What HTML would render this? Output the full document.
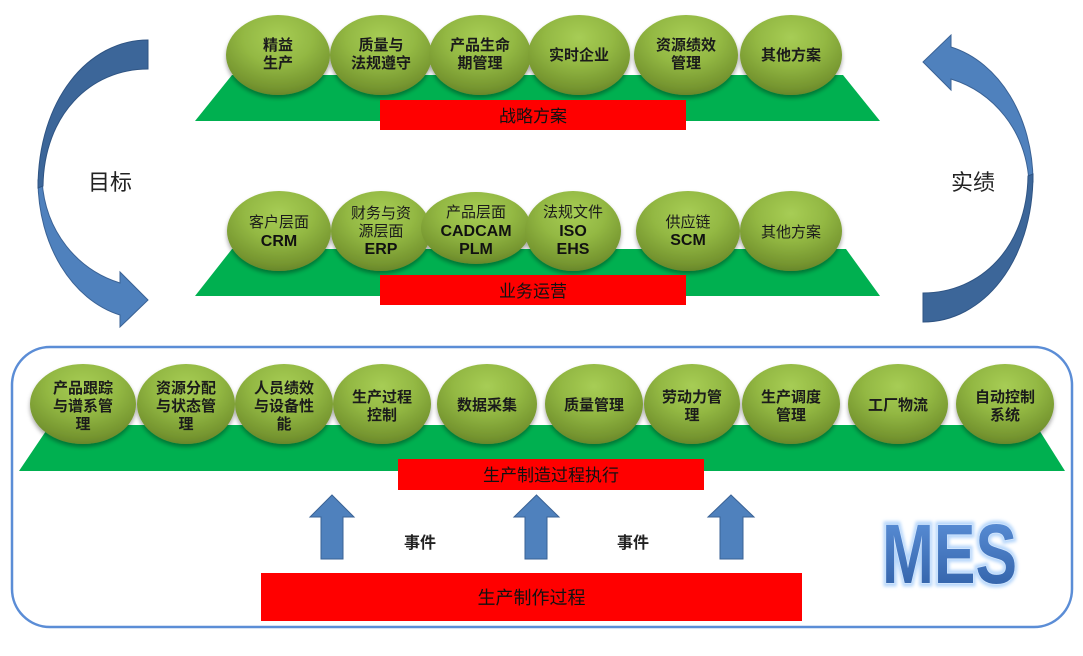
<!DOCTYPE html>
<html><head><meta charset="utf-8"><style>
html,body{margin:0;padding:0;background:#fff;}
svg{display:block;}
text{font-family:"Liberation Sans","Noto Sans CJK SC",sans-serif;}
</style></head><body>
<svg width="1083" height="656" viewBox="0 0 1083 656" xmlns="http://www.w3.org/2000/svg">
<defs>
<radialGradient id="ball" cx="50%" cy="28%" r="75%">
<stop offset="0" stop-color="#a7cd55"/>
<stop offset="0.45" stop-color="#93b843"/>
<stop offset="0.85" stop-color="#75952f"/>
<stop offset="1" stop-color="#64822a"/>
</radialGradient>
<filter id="sh" x="-20%" y="-20%" width="140%" height="150%">
<feDropShadow dx="0" dy="3" stdDeviation="2" flood-color="#000" flood-opacity="0.35"/>
</filter>
<linearGradient id="mesg" x1="0" y1="0" x2="0" y2="1">
<stop offset="0" stop-color="#5f94dc"/>
<stop offset="1" stop-color="#2d5ca3"/>
</linearGradient>
<filter id="glow" x="-10%" y="-10%" width="120%" height="120%">
<feGaussianBlur stdDeviation="1.5"/>
</filter>
<g id="carrow">
<path d="M120,283 C78,270 45,232 42,180 L38,180 C38,245 72,300 120,315 L120,327 L148,300 L120,272 Z" fill="#4f81bd" stroke="#3a6295" stroke-width="1"/>
<path d="M148,40 C88,40 38,100 38,188 L43,186 C44,115 90,69 148,69 Z" fill="#3c6699" stroke="#2f5483" stroke-width="1"/>
</g>
</defs>

<!-- curved arrows -->
<use href="#carrow"/>
<use href="#carrow" transform="rotate(180 535.5 181)"/>
<text x="110" y="190" font-size="22" text-anchor="middle" fill="#222">目标</text>
<text x="973" y="190" font-size="22" text-anchor="middle" fill="#222">实绩</text>

<!-- Row 1 -->
<polygon points="232,75 843,75 880,121 195,121" fill="#00b050"/>
<g filter="url(#sh)" fill="url(#ball)">
<ellipse cx="278" cy="55" rx="52" ry="40"/>
<ellipse cx="381" cy="55" rx="51" ry="40"/>
<ellipse cx="480" cy="55" rx="51" ry="40"/>
<ellipse cx="579" cy="55" rx="51" ry="40"/>
<ellipse cx="686" cy="55" rx="52" ry="40"/>
<ellipse cx="791" cy="55" rx="51" ry="40"/>
</g>
<g font-size="15" font-weight="bold" fill="#1b1b1b" text-anchor="middle">
<text x="278" y="50">精益</text><text x="278" y="68">生产</text>
<text x="381" y="50">质量与</text><text x="381" y="68">法规遵守</text>
<text x="480" y="50">产品生命</text><text x="480" y="68">期管理</text>
<text x="579" y="60">实时企业</text>
<text x="686" y="50">资源绩效</text><text x="686" y="68">管理</text>
<text x="791" y="60">其他方案</text>
</g>
<rect x="380" y="100" width="306" height="30" fill="#ff0000"/>
<text x="533" y="122" font-size="17" text-anchor="middle" fill="#111">战略方案</text>

<!-- Row 2 -->
<polygon points="232,249 846,249 880,296 195,296" fill="#00b050"/>
<g filter="url(#sh)" fill="url(#ball)">
<ellipse cx="279" cy="231" rx="52" ry="40"/>
<ellipse cx="381" cy="231" rx="50" ry="40"/>
<ellipse cx="476" cy="228" rx="55" ry="36"/>
<ellipse cx="573" cy="231" rx="48" ry="40"/>
<ellipse cx="688" cy="231" rx="52" ry="40"/>
<ellipse cx="791" cy="231" rx="51" ry="40"/>
</g>
<g font-size="15" fill="#1b1b1b" text-anchor="middle">
<text x="279" y="227">客户层面</text>
<text x="381" y="218">财务与资</text><text x="381" y="236">源层面</text>
<text x="476" y="217">产品层面</text>
<text x="573" y="217">法规文件</text>
<text x="688" y="227">供应链</text>
<text x="791" y="237">其他方案</text>
</g>
<g font-size="16" font-weight="bold" fill="#111" text-anchor="middle">
<text x="279" y="246">CRM</text>
<text x="381" y="254">ERP</text>
<text x="476" y="236">CADCAM</text><text x="476" y="254">PLM</text>
<text x="573" y="236">ISO</text><text x="573" y="254">EHS</text>
<text x="688" y="245">SCM</text>
</g>
<rect x="380" y="275" width="306" height="30" fill="#ff0000"/>
<text x="533" y="297" font-size="17" text-anchor="middle" fill="#111">业务运营</text>

<!-- MES container -->
<rect x="12" y="347" width="1060" height="280" rx="38" ry="38" fill="none" stroke="#5b8dd6" stroke-width="2.5"/>

<!-- Row 3 -->
<polygon points="50,425 1036,425 1065,471 19,471" fill="#00b050"/>
<g filter="url(#sh)" fill="url(#ball)">
<ellipse cx="83" cy="404" rx="53" ry="40"/>
<ellipse cx="186" cy="404" rx="49" ry="40"/>
<ellipse cx="284" cy="404" rx="49" ry="40"/>
<ellipse cx="382" cy="404" rx="49" ry="40"/>
<ellipse cx="487" cy="404" rx="50" ry="40"/>
<ellipse cx="594" cy="404" rx="49" ry="40"/>
<ellipse cx="692" cy="404" rx="48" ry="40"/>
<ellipse cx="791" cy="404" rx="49" ry="40"/>
<ellipse cx="898" cy="404" rx="50" ry="40"/>
<ellipse cx="1005" cy="404" rx="49" ry="40"/>
</g>
<g font-size="15" font-weight="bold" fill="#1b1b1b" text-anchor="middle">
<text x="83" y="393">产品跟踪</text><text x="83" y="411">与谱系管</text><text x="83" y="429">理</text>
<text x="186" y="393">资源分配</text><text x="186" y="411">与状态管</text><text x="186" y="429">理</text>
<text x="284" y="393">人员绩效</text><text x="284" y="411">与设备性</text><text x="284" y="429">能</text>
<text x="382" y="402">生产过程</text><text x="382" y="420">控制</text>
<text x="487" y="410">数据采集</text>
<text x="594" y="410">质量管理</text>
<text x="692" y="402">劳动力管</text><text x="692" y="420">理</text>
<text x="791" y="402">生产调度</text><text x="791" y="420">管理</text>
<text x="898" y="410">工厂物流</text>
<text x="1005" y="402">自动控制</text><text x="1005" y="420">系统</text>
</g>
<rect x="398" y="459" width="306" height="31" fill="#ff0000"/>
<text x="551" y="481" font-size="17" text-anchor="middle" fill="#111">生产制造过程执行</text>

<!-- up arrows -->
<g fill="#4f81bd" stroke="#3a6295" stroke-width="1">
<polygon points="332,495 354,517 343,517 343,559 321,559 321,517 310,517"/>
<polygon points="536.5,495 559,517 547,517 547,559 525,559 525,517 514,517"/>
<polygon points="731,495 754,517 743,517 743,559 720,559 720,517 708,517"/>
</g>
<text x="420" y="548" font-size="16" font-weight="bold" text-anchor="middle" fill="#222">事件</text>
<text x="633" y="548" font-size="16" font-weight="bold" text-anchor="middle" fill="#222">事件</text>

<rect x="261" y="573" width="541" height="48" fill="#ff0000"/>
<text x="531.5" y="604" font-size="18" text-anchor="middle" fill="#111">生产制作过程</text>

<!-- MES text -->
<text x="882" y="583" font-size="84" font-weight="bold" textLength="135" lengthAdjust="spacingAndGlyphs" fill="none" stroke="#b5d6fb" stroke-width="7" filter="url(#glow)">MES</text>
<text x="882" y="583" font-size="84" font-weight="bold" textLength="135" lengthAdjust="spacingAndGlyphs" fill="url(#mesg)" stroke="#cfe4fd" stroke-width="2" paint-order="stroke">MES</text>
</svg>
</body></html>
